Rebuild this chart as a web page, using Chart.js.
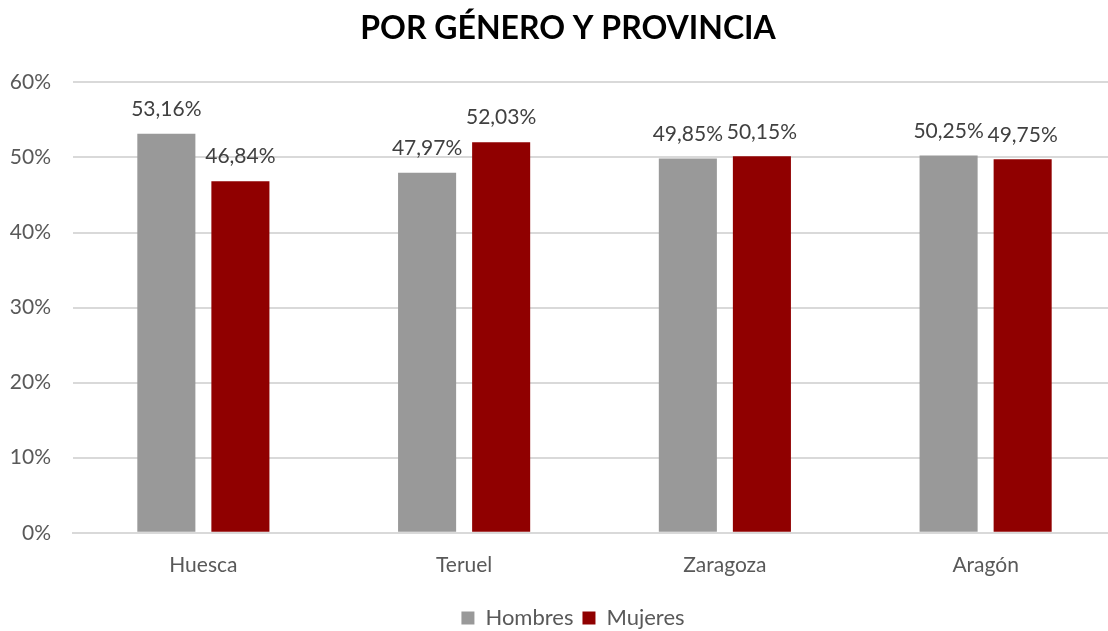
<!DOCTYPE html>
<html>
<head>
<meta charset="utf-8">
<script src="https://cdn.jsdelivr.net/npm/chart.js@4/dist/chart.umd.min.js"></script>
<style>
    html, body { margin: 0; padding: 0; background: #fff; overflow: hidden; }
</style>
</head>
<body>
<!-- el lienzo es algo más ancho que la ventana: el área del gráfico sigue tras el borde derecho -->
<canvas id="chart" width="1116" height="631"></canvas>
<script>
const provincias = ['Huesca', 'Teruel', 'Zaragoza', 'Aragón'];
const hombres = [53.16, 47.97, 49.85, 50.25];
const mujeres = [46.84, 52.03, 50.15, 49.75];
const yTicks = [0, 10, 20, 30, 40, 50, 60];

const colors = {
    grey: 'rgb(153, 153, 153)',
    red: 'rgb(144, 0, 0)',
    text: 'rgb(89, 89, 89)',
    grid: 'rgb(217, 217, 217)'
}

const fontFamily = 'Lato, "Open Sans", sans-serif';

// pinta el valor encima de cada barra
const valueLabels = {
    id: 'valueLabels',
    afterDatasetsDraw(chart) {
        const ctx = chart.ctx;
        ctx.save();
        ctx.font = '21px ' + fontFamily;
        ctx.fillStyle = 'rgb(64, 64, 64)';
        ctx.textAlign = 'center';
        ctx.textBaseline = 'bottom';
        chart.data.datasets.forEach((ds, i) => {
            chart.getDatasetMeta(i).data.forEach((bar, j) => {
                const text = ds.data[j].toFixed(2).replace('.', ',') + '%';
                ctx.fillText(text, bar.x, bar.y - 14);
            });
        });
        ctx.restore();
    }
}

// mueve título y leyenda un poco, como en el original
const nudgeBoxes = {
    id: 'nudgeBoxes',
    afterLayout(chart) {
        const t = chart.titleBlock, l = chart.legend;
        if (t) { t.left += 10; t.right += 10; }
        if (l) { l.left += 15; l.right += 15; l.top += 8; l.bottom += 8; }
    }
}

new Chart(document.getElementById('chart'), {
    type: 'bar',
    data: {
        labels: provincias,
        datasets: [
            { label: 'Hombres', data: hombres, backgroundColor: colors.grey },
            { label: 'Mujeres', data: mujeres, backgroundColor: colors.red }
        ]
    },
    options: {
        responsive: false,
        animation: false,
        datasets: {
            bar: { categoryPercentage: 0.568, barPercentage: 0.784 }
        },
        layout: { padding: { left: 0, right: 0, top: 4, bottom: 0 } },
        plugins: {
            title: {
                display: true,
                text: 'POR GÉNERO Y PROVINCIA',
                color: '#000',
                font: { family: fontFamily, size: 32, weight: 'bold' },
                padding: { top: 5, bottom: 35 }
            },
            legend: {
                position: 'bottom',
                labels: {
                    boxWidth: 13,
                    boxHeight: 13,
                    color: colors.text,
                    font: { family: fontFamily, size: 22 },
                    padding: 9
                }
            },
            tooltip: { enabled: false }
        },
        scales: {
            x: {
                grid: { display: false },
                border: { color: colors.grid, width: 2 },
                ticks: {
                    color: colors.text,
                    font: { family: fontFamily, size: 21 },
                    padding: 12
                }
            },
            y: {
                min: 0,
                max: 60,
                afterBuildTicks: axis => { axis.ticks = yTicks.map(v => ({ value: v })); },
                afterFit: axis => { axis.width = 73; },
                grid: { color: colors.grid, lineWidth: 2, drawTicks: false },
                border: { display: false },
                ticks: {
                    color: colors.text,
                    font: { family: fontFamily, size: 21 },
                    padding: 22,
                    callback: v => v + '%'
                }
            }
        }
    },
    plugins: [valueLabels, nudgeBoxes]
});
</script>
</body>
</html>
